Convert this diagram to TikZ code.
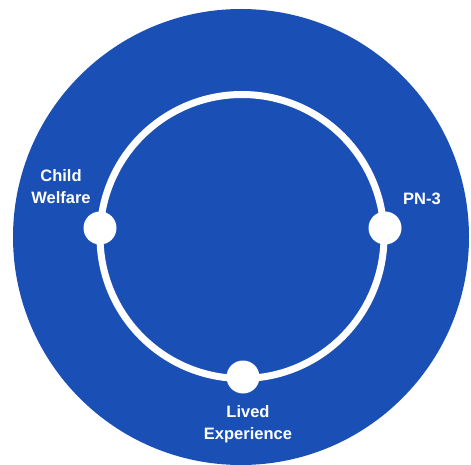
\documentclass[tikz,border=0pt]{standalone}
\usepackage{fontspec}
\setmainfont{Liberation Sans}
\usetikzlibrary{positioning}
\definecolor{discblue}{RGB}{26,80,182}
\tikzset{
    dot/.style = {
        circle,
        fill=white,
        minimum size=33pt,
        inner sep=0pt
    },
    tag/.style = {
        text=white,
        align=center,
        font=\fontsize{16.5pt}{22pt}\selectfont\bfseries
    },
    ring/.style = {draw=white, line width=7pt}
}

\begin{document}
\begin{tikzpicture}[x=1pt, y=1pt]

\useasboundingbox (0,0) rectangle (471,464);

\fill [discblue] (241,227) circle (228);

\coordinate (centre) at (242,227.5);
\draw [ring] (centre) circle (142);

\node (welfaredot) [dot] at (100,236) {};
\node (pn3dot) [dot] at (385,236) {};
\node (liveddot) [dot] at (243,87) {};

\node (welfare) [tag] at (61,277) {Child\\Welfare};
\node (pn3) [tag] at (422,265) {PN-3};
\node (lived) [tag] at (248,40) {Lived\\Experience};

\end{tikzpicture}
\end{document}
